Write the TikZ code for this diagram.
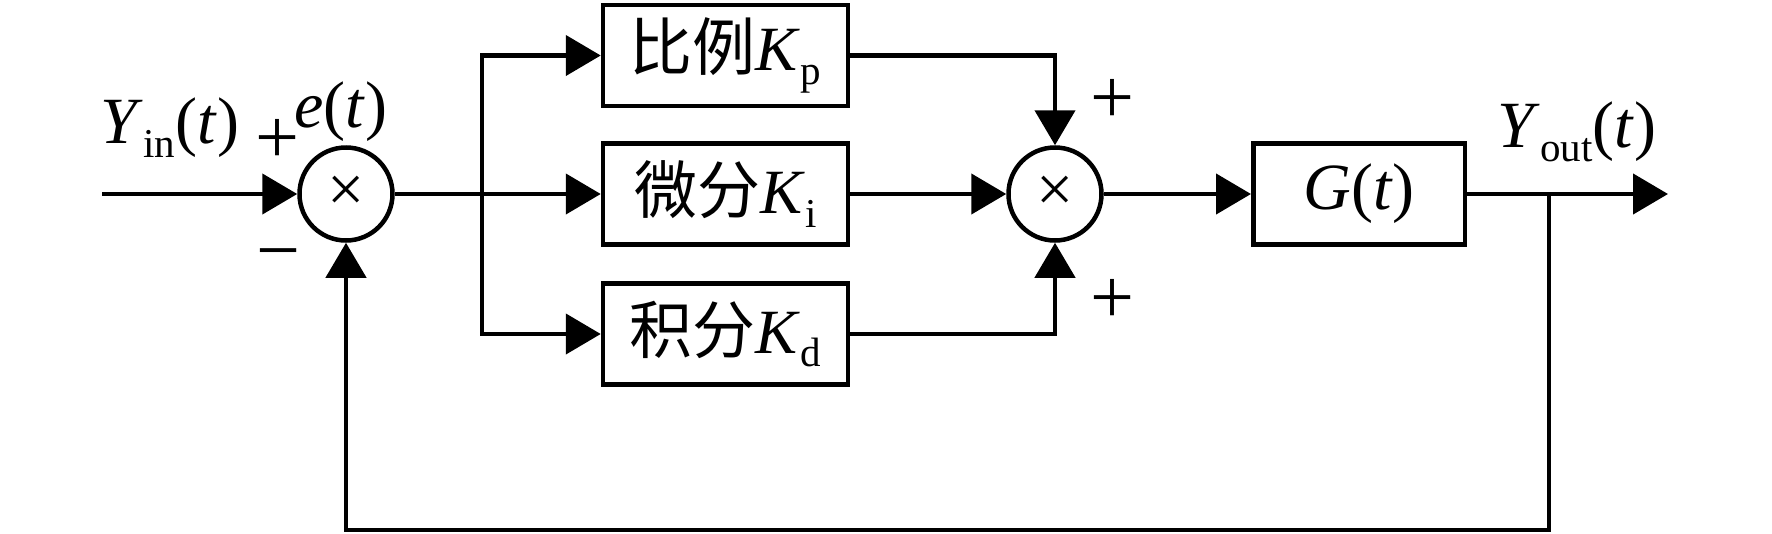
\documentclass[tikz,border=0pt]{standalone}
\usepackage{fontspec}
\setmainfont{Liberation Serif}
\newfontfamily\cjk{Noto Sans CJK SC}
\usetikzlibrary{arrows.meta}
\newcommand{\lsub}[1]{\raisebox{-0.22em}{\fontsize{41pt}{41pt}\selectfont #1}}
\tikzset{
  big/.style={font=\fontsize{66pt}{72pt}\selectfont, inner sep=0pt},
  sgn/.style={font=\fontsize{78pt}{78pt}\selectfont, inner sep=0pt},
  blk/.style={draw, line width=4.5pt, minimum width=245pt, minimum height=101pt, inner sep=0pt, font=\fontsize{63pt}{70pt}\selectfont},
  summer/.style={draw, circle, line width=4.5pt, minimum size=93pt, inner sep=0pt, font=\fontsize{66pt}{66pt}\selectfont},
  wire/.style={line width=4.5pt},
  arr/.style={line width=4.5pt, -{Triangle[length=35pt,width=40pt]}}
}
\begin{document}
\begin{tikzpicture}[x=1pt,y=-1pt]
\useasboundingbox (0,0) rectangle (1772,533);
% nodes
\node[summer] (s1) at (346,194) {×};
\node[summer] (s2) at (1055,194) {×};
\node[blk] (kp) at (725.5,55.5) {{\cjk 比例}\textit{K}\lsub{p}};
\node[blk] (ki) at (725.5,194) {{\cjk 微分}\textit{K}\lsub{i}};
\node[blk] (kd) at (725.5,334) {{\cjk 积分}\textit{K}\lsub{d}};
\node[blk, minimum width=211.5pt, font=\fontsize{66pt}{72pt}\selectfont] (g) at (1359,194) {\textit{G}(\textit{t})};
\coordinate (in) at (102,194);
\coordinate (br) at (482,194);
\coordinate (out) at (1668,194);
\coordinate (fb) at (1549,194);
\coordinate (fbc) at (1549,530);
% labels
\node[big, anchor=base] (lyin) at (170,143) {\textit{Y}\lsub{in}(\textit{t})};
\node[big, anchor=base] (le) at (341,127) {\textit{e}(\textit{t})};
\node[sgn] (p1) at (277,141) {+};
\node[sgn] (m1) at (278.5,263) {−};
\node[sgn] (p2) at (1112,101) {+};
\node[sgn] (p3) at (1112,301) {+};
\node[big, anchor=base] (lyout) at (1577,147) {\textit{Y}\lsub{out}(\textit{t})};
% connectors
\draw[arr] (in) -- (s1.west);
\draw[wire] (s1.east) -- (br);
\draw[arr] (br) |- (kp.west);
\draw[arr] (br) -- (ki.west);
\draw[arr] (br) |- (kd.west);
\draw[arr] (kp.east) -| (s2.north);
\draw[arr] (ki.east) -- (s2.west);
\draw[arr] (kd.east) -| (s2.south);
\draw[arr] (s2.east) -- (g.west);
\draw[arr] (g.east) -- (out);
\draw[arr] (fb) -- (fbc) -| (s1.south);
\end{tikzpicture}
\end{document}
